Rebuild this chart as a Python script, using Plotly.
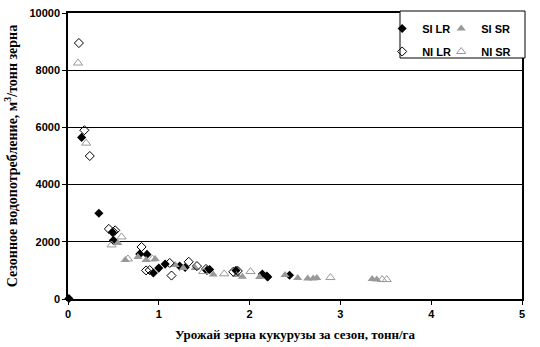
import plotly.graph_objects as go

# SI LR (filled black diamonds)
si_lr_x = [0.01, 0.15, 0.34, 0.50, 0.49, 0.79, 0.87, 0.94, 1.00, 1.07, 1.23, 1.29, 1.53, 1.56, 1.85, 2.14, 2.19, 2.20, 2.44]
si_lr_y = [20, 5650, 3000, 2050, 2330, 1570, 1560, 910, 1080, 1220, 1150, 1100, 1000, 1030, 1000, 875, 800, 770, 830]

# SI SR (filled grey triangles)
si_sr_x = [0.55, 0.63, 0.77, 0.86, 0.96, 1.18, 1.27, 1.40, 1.60, 1.86, 1.92, 2.11, 2.39, 2.53, 2.64, 2.70, 2.74, 3.35, 3.40]
si_sr_y = [1960, 1360, 1470, 1360, 1400, 1190, 1080, 1080, 860, 840, 780, 770, 840, 730, 720, 720, 730, 700, 680]

# NI LR (open diamonds)
ni_lr_x = [0.12, 0.18, 0.24, 0.45, 0.50, 0.52, 0.81, 0.86, 0.90, 1.12, 1.14, 1.33, 1.42, 1.52, 1.82, 1.87]
ni_lr_y = [8950, 5900, 5000, 2450, 2350, 2400, 1820, 1000, 1010, 1260, 820, 1300, 1150, 1050, 950, 980]

# NI SR (open grey triangles)
ni_sr_x = [0.11, 0.20, 0.48, 0.59, 0.66, 0.93, 1.49, 1.72, 2.01, 2.89, 3.46, 3.51]
ni_sr_y = [8250, 5450, 1890, 2170, 1400, 1400, 960, 880, 960, 750, 680, 680]

series_names = ["SI LR", "SI SR", "NI LR", "NI SR"]

x_ticks = [0, 1, 2, 3, 4, 5]
x_labels = ["0", "1", "2", "3", "4", "5"]
y_ticks = [0, 2000, 4000, 6000, 8000, 10000]
y_labels = ["0", "2000", "4000", "6000", "8000", "10000"]

GREY = "#999999"
fig = go.Figure()
fig.add_trace(go.Scatter(x=si_lr_x, y=si_lr_y, mode="markers", name=series_names[0],
                         marker=dict(symbol="diamond", size=7, color="black"),
                         legend="legend", legendgroup="a", cliponaxis=False))
fig.add_trace(go.Scatter(x=si_sr_x, y=si_sr_y, mode="markers", name=series_names[1],
                         marker=dict(symbol="triangle-up", size=8, color=GREY),
                         legend="legend2", legendgroup="b", cliponaxis=False))
fig.add_trace(go.Scatter(x=ni_lr_x, y=ni_lr_y, mode="markers", name=series_names[2],
                         marker=dict(symbol="diamond-open", size=7, color="black", line=dict(width=1)),
                         legend="legend", legendgroup="c", cliponaxis=False))
fig.add_trace(go.Scatter(x=ni_sr_x, y=ni_sr_y, mode="markers", name=series_names[3],
                         marker=dict(symbol="triangle-up-open", size=8, color=GREY, line=dict(width=1)),
                         legend="legend2", legendgroup="d", cliponaxis=False))

tickfont = dict(family="Liberation Sans", size=11, color="black", weight="bold")
xtitlefont = dict(family="Liberation Serif", size=13, color="black", weight="bold")
ytitlefont = dict(family="Liberation Serif", size=14, color="black", weight="bold")
legfont = dict(family="Liberation Sans", size=11, color="black", weight="bold")

H = 299.0  # paper height in px (margin t=0)
W = 454.0  # paper width in px

fig.update_layout(
    width=540, height=347,
    margin=dict(l=68, r=18, t=0, b=48),
    paper_bgcolor="white", plot_bgcolor="white",
    showlegend=True,
    legend=dict(x=0.692, y=(H - 14) / H, xanchor="left", yanchor="top", font=legfont,
                bgcolor="rgba(0,0,0,0)", borderwidth=0, tracegroupgap=4,
                itemwidth=30),
    legend2=dict(x=0.822, y=(H - 14) / H, xanchor="left", yanchor="top", font=legfont,
                 bgcolor="rgba(0,0,0,0)", borderwidth=0, tracegroupgap=4,
                 itemwidth=30),
    xaxis=dict(range=[0, 5], tickvals=x_ticks, ticktext=x_labels, ticks="outside", ticklen=4,
               tickcolor="black", tickwidth=1, showgrid=False, zeroline=False,
               showline=True, linecolor="black", linewidth=1.5, mirror=True,
               tickfont=tickfont, automargin=False,
               title=dict(text="Урожай зерна кукурузы за сезон, тонн/га", font=xtitlefont, standoff=11)),
    yaxis=dict(range=[0, 10000], tickvals=y_ticks, ticktext=y_labels, ticks="outside", ticklen=4,
               tickcolor="black", tickwidth=1, showgrid=True, gridcolor="black",
               gridwidth=1.2, zeroline=False, domain=[0, (H - 13) / H],
               showline=True, linecolor="black", linewidth=1.5, mirror=True,
               tickfont=tickfont, automargin=False,
               title=dict(text="Сезонное водопотребление, м<sup>3</sup>/тонн зерна", font=ytitlefont, standoff=9)),
    shapes=[dict(type="rect", xref="paper", yref="paper",
                 x0=(400 - 68) / W, x1=(525 - 68) / W,
                 y0=(H - 58) / H, y1=(H - 11) / H,
                 line=dict(color="black", width=1), fillcolor="white", layer="above")],
)

fig.write_html("out.html")
